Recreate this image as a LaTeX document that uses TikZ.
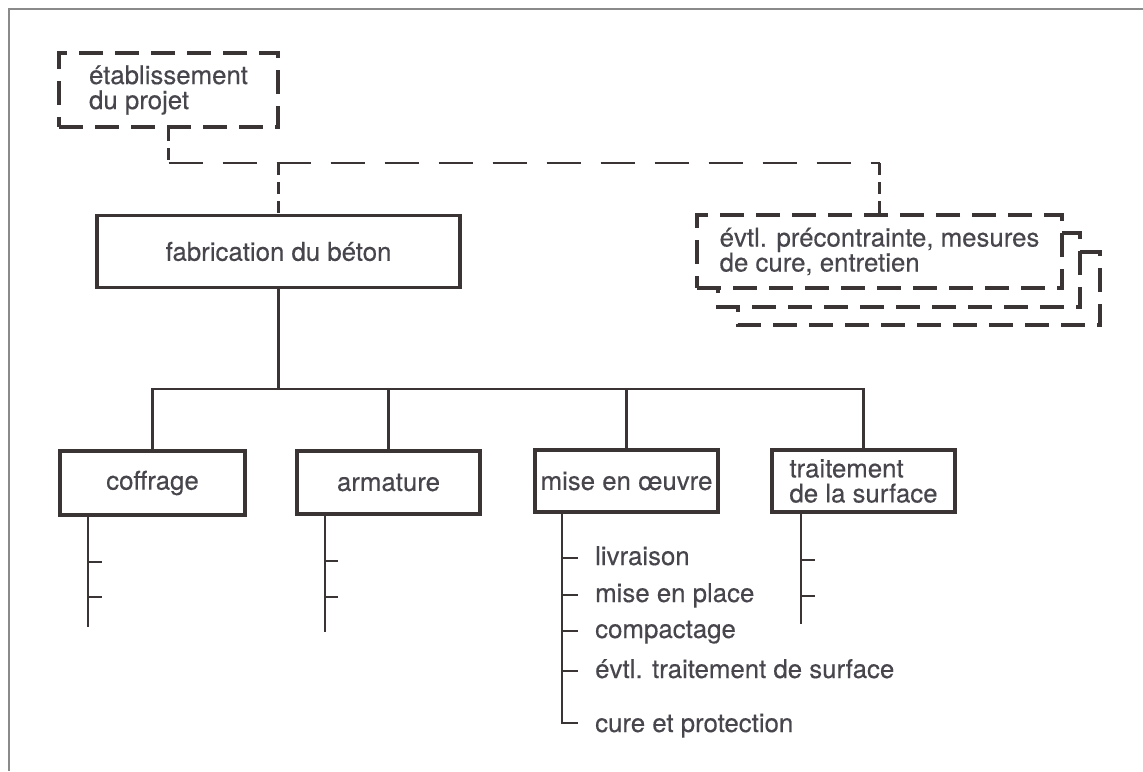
\documentclass[tikz,border=0pt]{standalone}
\usepackage{fontspec}
\setmainfont{TeX Gyre Heros}[FakeBold=0.35]
\definecolor{ink}{HTML}{3A3434}
\definecolor{txt}{HTML}{48464C}
\definecolor{framec}{HTML}{8A8A8A}
\begin{document}
\begin{tikzpicture}[x=1pt,y=-1pt,
  font=\fontsize{25.8}{25}\selectfont,
  every node/.style={text=txt},
  sbox/.style={draw=ink, line width=3.8pt, inner sep=0pt, fill=white},
  dboxline/.style={draw=ink, line width=3.6pt, dash pattern=on 24pt off 12pt},
  dbox/.style={dboxline, inner sep=0pt, fill=white},
  conn/.style={draw=ink, line width=2.6pt},
  dconnh/.style={draw=ink, line width=2.4pt, dash pattern=on 34pt off 20pt},
  dconnv/.style={draw=ink, line width=2.4pt, dash pattern=on 12pt off 7pt},
  item/.style={anchor=base west, inner sep=0pt}
]
\useasboundingbox (0,0) rectangle (1143,771);
% frame
\draw[framec, line width=2pt] (8,9) -- (1143,9);
\draw[framec, line width=2pt] (9,9) -- (9,771);

% top boxes
\node[dbox, minimum width=219pt, minimum height=74pt, align=left] (etab) at (168.5,90) {établissement\\du projet};
\node[sbox, minimum width=363pt, minimum height=72pt] (fab) at (278.5,251.5) {fabrication du béton};

% stacked dashed boxes
\draw[dboxline, fill=white] (738,252) rectangle (1100,325);
\draw[dboxline, fill=white] (718,233) rectangle (1080,307);
\node[dbox, minimum width=365pt, minimum height=73pt, align=left] (evtl) at (879.5,251.5) {évtl. précontrainte, mesures\\de cure, entretien};

% dashed connectors
\coordinate (top) at (168.5,163);
\draw[dconnv] (etab.south) -- (top);
\draw[dconnh] (top) -- (top -| evtl.north);
\draw[dconnv] (top -| evtl.north) -- (evtl.north);
\draw[dconnv] (top -| fab.north) -- (fab.north);

% second level boxes
\node[sbox, minimum width=185pt, minimum height=64pt] (coffrage) at (152.5,483) {coffrage};
\node[sbox, minimum width=183pt, minimum height=63pt] (armature) at (388.5,482.5) {armature};
\node[sbox, minimum width=183pt, minimum height=62pt] (mise) at (626.5,481) {mise en œuvre};
\node[sbox, minimum width=183pt, minimum height=62pt, align=left] (traitement) at (863.5,481) {traitement\\de la surface};

% tree connectors
\coordinate (bus) at (278.5,389);
\draw[conn] (fab.south) -- (bus);
\draw[conn] (coffrage.north) |- (bus -| traitement.north) -- (traitement.north);
\draw[conn] (armature.north) -- (armature.north |- bus);
\draw[conn] (mise.north) -- (mise.north |- bus);

% coffrage stem
\coordinate (cs) at (88,627);
\draw[conn] (cs |- coffrage.south) -- (cs);
\draw[conn] (88,562) -- ++(14,0);
\draw[conn] (88,597) -- ++(14,0);
% armature stem
\coordinate (as) at (325,632);
\draw[conn] (as |- armature.south) -- (as);
\draw[conn] (325,561) -- ++(13,0);
\draw[conn] (325,597) -- ++(13,0);
% traitement stem
\coordinate (ts) at (801,624);
\draw[conn] (ts |- traitement.south) -- (ts);
\draw[conn] (801,560) -- ++(14,0);
\draw[conn] (801,596) -- ++(14,0);

% mise en oeuvre list
\node[item] (i1) at (595,565) {livraison};
\node[item] (i2) at (595,602) {mise en place};
\node[item] (i3) at (595,638) {compactage};
\node[item] (i4) at (595,678) {évtl. traitement de surface};
\node[item] (i5) at (595,732) {cure et protection};
\coordinate (ms) at (562,0);
\path ([yshift=7pt]i1.base west) coordinate (t1)
      ([yshift=7pt]i2.base west) coordinate (t2)
      ([yshift=7pt]i3.base west) coordinate (t3)
      ([yshift=7pt]i4.base west) coordinate (t4)
      ([yshift=9pt]i5.base west) coordinate (t5);
\draw[conn] (ms |- mise.south) -- (ms |- t5) -- ++(16,0);
\foreach \t in {t1,t2,t3,t4} \draw[conn] (ms |- \t) -- ++(16,0);
\end{tikzpicture}
\end{document}
